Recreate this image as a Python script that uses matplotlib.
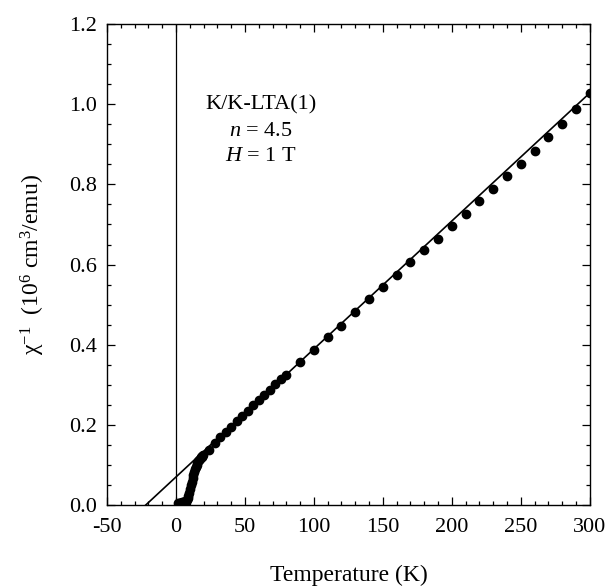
import matplotlib
matplotlib.use('Agg')
import matplotlib.pyplot as plt
from matplotlib.ticker import MultipleLocator, FormatStrFormatter

# Inverse susceptibility of K/K-LTA(1), n = 4.5, H = 1 T
temp_low = [1.8, 2.4, 3.0, 3.6, 4.2, 4.8, 5.4, 6.0, 6.6, 7.2, 7.8, 8.4, 9.0,
            9.6, 10.2, 10.8, 11.4, 12.0, 12.6, 13.2, 13.8, 14.4, 15.0, 15.6,
            16.2, 16.8, 17.4, 18.0, 18.6, 19.2, 19.8]
chi_inv_low = [0.006, 0.006, 0.006, 0.006, 0.007, 0.007, 0.007, 0.008, 0.009,
               0.010, 0.012, 0.017, 0.024, 0.031, 0.040, 0.049, 0.058, 0.067,
               0.075, 0.083, 0.090, 0.096, 0.101, 0.106, 0.110, 0.113, 0.116,
               0.119, 0.121, 0.123, 0.125]
temp_mid = [24, 28, 32, 36, 40, 44, 48, 52, 56, 60, 64, 68, 72, 76, 80]
chi_inv_mid = [0.137, 0.154, 0.169, 0.183, 0.195, 0.209, 0.222, 0.235, 0.249,
               0.262, 0.275, 0.288, 0.301, 0.314, 0.325]
temp_high = [90, 100, 110, 120, 130, 140, 150, 160, 170, 180, 190, 200, 210,
             220, 230, 240, 250, 260, 270, 280, 290, 300]
chi_inv_high = [0.358, 0.388, 0.420, 0.448, 0.482, 0.513, 0.544, 0.575, 0.606,
                0.636, 0.665, 0.696, 0.727, 0.758, 0.788, 0.820, 0.851, 0.883,
                0.917, 0.951, 0.988, 1.029]

# Curie-Weiss fit line
fit_temp = [-22, 300]
fit_chi_inv = [0.0, 1.028]

plt.rcParams['font.family'] = ['Liberation Serif', 'DejaVu Serif']
plt.rcParams['mathtext.fontset'] = 'custom'
plt.rcParams['mathtext.rm'] = 'Liberation Serif'
plt.rcParams['mathtext.it'] = 'Liberation Serif:italic'
plt.rcParams['axes.unicode_minus'] = False

fig = plt.figure(figsize=(6.08, 5.86), dpi=100)
ax = fig.add_axes([0.176, 0.138, 0.794, 0.821])

temps = temp_low + temp_mid + temp_high
chis = chi_inv_low + chi_inv_mid + chi_inv_high
ax.plot(temps, chis, 'o', color='black', markersize=6, zorder=3)
ax.plot(fit_temp, fit_chi_inv, '-', color='black', linewidth=1.2)
ax.axvline(0, color='black', linewidth=0.9)

ax.set_xlim(-50, 300)
ax.set_ylim(0, 1.2)
ax.xaxis.set_major_locator(MultipleLocator(50))
ax.xaxis.set_minor_locator(MultipleLocator(10))
ax.yaxis.set_major_locator(MultipleLocator(0.2))
ax.yaxis.set_minor_locator(MultipleLocator(0.05))
ax.yaxis.set_major_formatter(FormatStrFormatter('%.1f'))
ax.tick_params(which='both', direction='in', top=True, right=True,
               labelsize=16, width=0.9)
ax.tick_params(which='major', length=6, pad=7)
ax.tick_params(axis='x', which='major', pad=9)
ax.tick_params(which='minor', length=3)
for s in ax.spines.values():
  s.set_linewidth(1.0)

ax.set_xlabel('Temperature (K)', fontsize=17, labelpad=20)
ax.set_ylabel('\u03c7$^{-1}$  (10$^{6}$ cm$^{3}$/emu)', fontsize=17,
              labelpad=16)

ax.text(61.5, 0.998, 'K/K-LTA(1)', fontsize=16, ha='center', va='center')
ax.text(61.5, 0.933, r'$n$ = 4.5', fontsize=16, ha='center', va='center')
ax.text(61.5, 0.870, r'$H$ = 1 T', fontsize=16, ha='center', va='center')

fig.savefig('out.png', dpi=100)
